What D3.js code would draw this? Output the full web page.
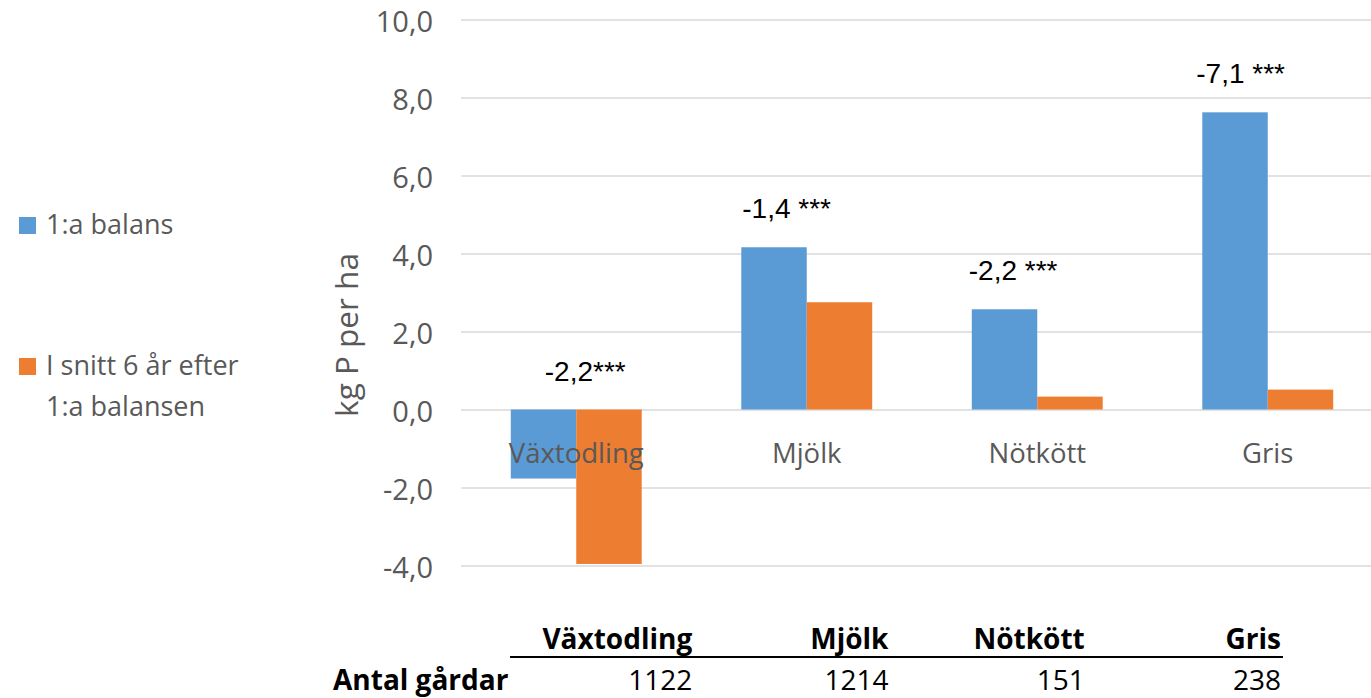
<!DOCTYPE html>
<html>
<head>
<meta charset="utf-8">
<script src="https://cdn.jsdelivr.net/npm/d3@7"></script>
<style>
  html, body { margin: 0; padding: 0; background: #fff; }
  svg { display: block; }
</style>
</head>
<body>
<svg id="chart" width="1371" height="698"></svg>
<script>
// ---- data ----
const categories = ["Växtodling", "Mjölk", "Nötkött", "Gris"];
const seriesNames = ["1:a balans", "I snitt 6 år efter 1:a balansen"];
const firstBalance = [-1.77, 4.16, 2.57, 7.62];
const sixYearAvg = [-3.96, 2.75, 0.33, 0.51];
const changeLabels = ["-2,2***", "-1,4 ***", "-2,2 ***", "-7,1 ***"];
const farmCounts = [1122, 1214, 151, 238];
const yTicks = [-4, -2, 0, 2, 4, 6, 8, 10];
const yTitle = "kg P per ha";
const tableRowLabel = "Antal gårdar";

// ---- layout ----
const W = 1371, H = 698;
const colors = ["#5B9BD5", "#ED7D31"];
const noteDx = [34, 1, -3, -6];

const svg = d3.select("#chart");
const fmt = d3.formatLocale({decimal: ",", thousands: " ", grouping: [3], currency: ["", ""], minus: "-"}).format(".1f");

const y = d3.scaleLinear().domain([-4, 10]).range([565.5, 19.5]);
const x0 = d3.scaleBand().domain(categories).range([461, 1383]).paddingInner(0.432).paddingOuter(0.216);
const x1 = d3.scaleBand().domain([0, 1]).range([0, x0.bandwidth()]);

// gridlines
const gridAxis = d3.axisLeft(y).tickValues(yTicks).tickSize(-(W - 461)).tickFormat(fmt);
const gAxis = svg.append("g").attr("transform", "translate(461,0)").call(gridAxis);
gAxis.select(".domain").remove();
gAxis.selectAll(".tick line").attr("stroke", "#d9d9d9").attr("stroke-width", 1.5);
gAxis.selectAll(".tick text")
  .attr("x", -28)
  .attr("dy", "0.4em")
  .attr("fill", "#595959")
  .style("font-family", "'Open Sans', sans-serif")
  .style("font-size", "29px");

// bars
const data = categories.map((c, i) => ({cat: c, vals: [firstBalance[i], sixYearAvg[i]]}));
const groups = svg.append("g").selectAll("g").data(data).join("g")
  .attr("transform", d => `translate(${x0(d.cat)},0)`);
groups.selectAll("rect").data(d => d.vals.map((v, k) => ({v, k}))).join("rect")
  .attr("x", d => x1(d.k))
  .attr("width", x1.bandwidth())
  .attr("y", d => y(Math.max(0, d.v)))
  .attr("height", d => Math.abs(y(d.v) - y(0)))
  .attr("fill", d => colors[d.k]);

// category labels inside plot
svg.append("g").selectAll("text").data(categories).join("text")
  .attr("x", d => x0(d) + x0.bandwidth() / 2)
  .attr("y", 463)
  .attr("text-anchor", "middle")
  .attr("fill", "#595959")
  .style("font-family", "'Open Sans', sans-serif")
  .style("font-size", "27.5px")
  .text(d => d);

// change annotations
svg.append("g").selectAll("text").data(categories).join("text")
  .attr("x", (d, i) => x0(d) + noteDx[i])
  .attr("y", (d, i) => y(Math.max(0, firstBalance[i])) - 29)
  .attr("fill", "#000")
  .style("font-family", "'Liberation Sans', Arial, sans-serif")
  .style("font-size", "28px")
  .text((d, i) => changeLabels[i]);

// y title
svg.append("text")
  .attr("transform", "translate(358,335) rotate(-90)")
  .attr("text-anchor", "middle")
  .attr("fill", "#595959")
  .style("font-family", "'Open Sans', sans-serif")
  .style("font-size", "31.5px")
  .text(yTitle);

// legend
const legendItems = [
  {lines: [seriesNames[0]], y: 217},
  {lines: ["I snitt 6 år efter", "1:a balansen"], y: 358}
];
legendItems.forEach((it, i) => {
  svg.append("rect").attr("x", 19).attr("y", it.y).attr("width", 17).attr("height", 17).attr("fill", colors[i]);
  const t = svg.append("text")
    .attr("x", 46).attr("y", it.y + 17)
    .attr("fill", "#595959")
    .style("font-family", "'Open Sans', sans-serif")
    .style("font-size", "27px");
  it.lines.forEach((l, j) => t.append("tspan").attr("x", 46).attr("dy", j ? 41 : 0).text(l));
});

// bottom table
const tx = d3.scaleBand().domain(categories).range([499, 1284]);
const tableFont = "'Open Sans', sans-serif";
svg.append("g").selectAll("text").data(categories).join("text")
  .attr("x", d => tx(d) + tx.bandwidth() - 3)
  .attr("y", 649)
  .attr("text-anchor", "end")
  .attr("fill", "#000")
  .style("font-family", tableFont)
  .style("font-weight", "bold")
  .style("font-size", "28px")
  .text(d => d);
svg.append("line").attr("x1", 510).attr("x2", 1283).attr("y1", 657).attr("y2", 657)
  .attr("stroke", "#000").attr("stroke-width", 2);
svg.append("text").attr("x", 333).attr("y", 690)
  .attr("fill", "#000")
  .style("font-family", tableFont)
  .style("font-weight", "bold")
  .style("font-size", "28px")
  .text(tableRowLabel);
svg.append("g").selectAll("text").data(categories).join("text")
  .attr("x", d => tx(d) + tx.bandwidth() - 3)
  .attr("y", 690)
  .attr("text-anchor", "end")
  .attr("fill", "#000")
  .style("font-family", tableFont)
  .style("font-size", "28px")
  .text((d, i) => farmCounts[i]);
</script>
</body>
</html>
